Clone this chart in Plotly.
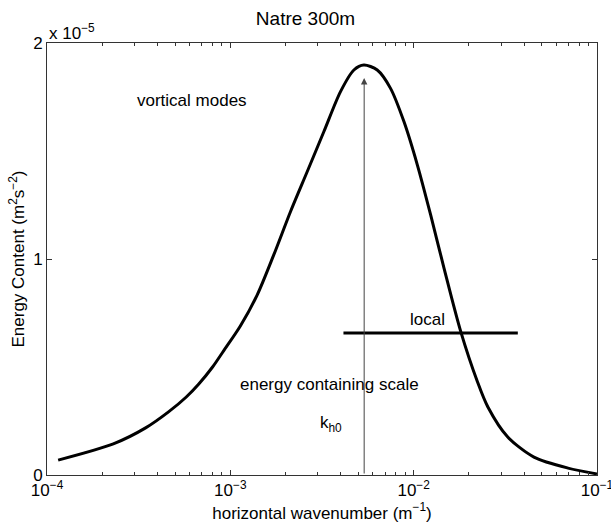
import numpy as np
import plotly.graph_objects as go

# curve data (horizontal wavenumber, energy content in 1e-5 m^2 s^-2)
k = [1.15e-4, 2.3e-4, 3.45e-4, 4.6e-4, 5.75e-4, 6.71e-4, 8.0e-4, 9.19e-4, 1.134e-3, 1.40e-3,
     1.725e-3, 2.128e-3, 2.625e-3, 3.235e-3, 3.99e-3, 4.72e-3, 5.35e-3, 6.33e-3,
     7.48e-3, 8.85e-3, 1.048e-2, 1.238e-2, 1.465e-2, 1.807e-2, 2.228e-2, 2.54e-2,
     3.26e-2, 4.53e-2, 6.95e-2, 1.0e-1]
E = [0.069, 0.144, 0.218, 0.292, 0.361, 0.420, 0.500, 0.575, 0.690, 0.833,
     1.019, 1.219, 1.404, 1.589, 1.775, 1.875, 1.898, 1.875,
     1.790, 1.636, 1.435, 1.204, 0.957, 0.664, 0.432, 0.315,
     0.176, 0.083, 0.032, 0.005]

# "local" horizontal bar
local_k = [4.14e-3, 3.70e-2]
local_E = [0.657, 0.657]

# energy-containing scale arrow
kh0 = 5.37e-3
arrow_top = 1.838

scale = 1e-5

xticks = [1e-4, 1e-3, 1e-2, 1e-1]
xticktext = ["10<sup>−4</sup>", "10<sup>−3</sup>", "10<sup>−2</sup>", "10<sup>−1</sup>"]
yticks = [0, 1, 2]
yticktext = ["0", "1", "2"]

minor_vals = [m * d for d in [1e-4, 1e-3, 1e-2] for m in range(2, 10)]

FONT = "Liberation Sans, Arial, Helvetica, sans-serif"
FS = 17

fig = go.Figure()
fig.add_trace(go.Scatter(x=k, y=[e * scale for e in E], mode="lines",
                         line=dict(color="black", width=3, shape="spline", smoothing=0.8),
                         showlegend=False, hoverinfo="skip", cliponaxis=False))
fig.add_trace(go.Scatter(x=local_k, y=[e * scale for e in local_E], mode="lines",
                         line=dict(color="black", width=3), showlegend=False, hoverinfo="skip"))

fig.add_annotation(x=np.log10(kh0), y=arrow_top * scale, ax=np.log10(kh0), ay=0,
                   xref="x", yref="y", axref="x", ayref="y", showarrow=True,
                   arrowhead=2, arrowsize=1.3, arrowwidth=1, arrowcolor="#444", text="")

texts = [
    (3.03e-4, 1.736, "vortical modes"),
    (1.107e-3, 0.417, "energy containing scale"),
    (3.0e-3, 0.235, "k<sub>h0</sub>"),
]
for tx, ty, tt in texts:
    fig.add_annotation(x=np.log10(tx), y=ty * scale, text=tt, showarrow=False,
                       xanchor="left", yanchor="middle", font=dict(size=FS, color="black", family=FONT))
fig.add_annotation(x=np.log10(1.194e-2), y=0.718 * scale, text="local", showarrow=False,
                   xanchor="center", yanchor="middle", font=dict(size=FS, color="black", family=FONT))

fig.add_annotation(x=0, y=1, xref="paper", yref="paper", xanchor="left", yanchor="bottom",
                   text="x 10<sup>−5</sup>", showarrow=False, yshift=-2,
                   font=dict(size=FS, color="black", family=FONT))

fig.update_layout(
    width=611, height=527,
    margin=dict(l=47, r=14, t=43, b=52, autoexpand=False),
    paper_bgcolor="white", plot_bgcolor="white",
    font=dict(family=FONT, size=FS, color="black"),
    title=dict(text="Natre 300m", x=0.5, xanchor="center", y=0.965, yanchor="middle",
               font=dict(size=19, family=FONT)),
    xaxis=dict(type="log", range=[-4.0001, -0.9999], tickvals=xticks, ticktext=xticktext,
               ticks="inside", ticklen=5, tickcolor="#333", showline=True, linecolor="#333",
               linewidth=1, mirror="ticks", showgrid=False, zeroline=False,
               ticklabeloverflow="allow", automargin=False,
               minor=dict(tickvals=minor_vals, ticks="inside", ticklen=3, tickcolor="#333", showgrid=False),
               title=dict(text="horizontal wavenumber (m<sup>−1</sup>)", standoff=4,
                          font=dict(size=FS)),
               tickfont=dict(size=FS)),
    yaxis=dict(range=[0, 2 * scale], tickvals=[v * scale for v in yticks], ticktext=yticktext,
               ticks="inside", ticklen=5, tickcolor="#333", showline=True, linecolor="#333",
               linewidth=1, mirror="ticks", showgrid=False, zeroline=False, automargin=False,
               title=dict(text="Energy Content (m<sup>2</sup>s<sup>−2</sup>)", standoff=4,
                          font=dict(size=FS)),
               tickfont=dict(size=FS)),
)

fig.write_html("out.html")
